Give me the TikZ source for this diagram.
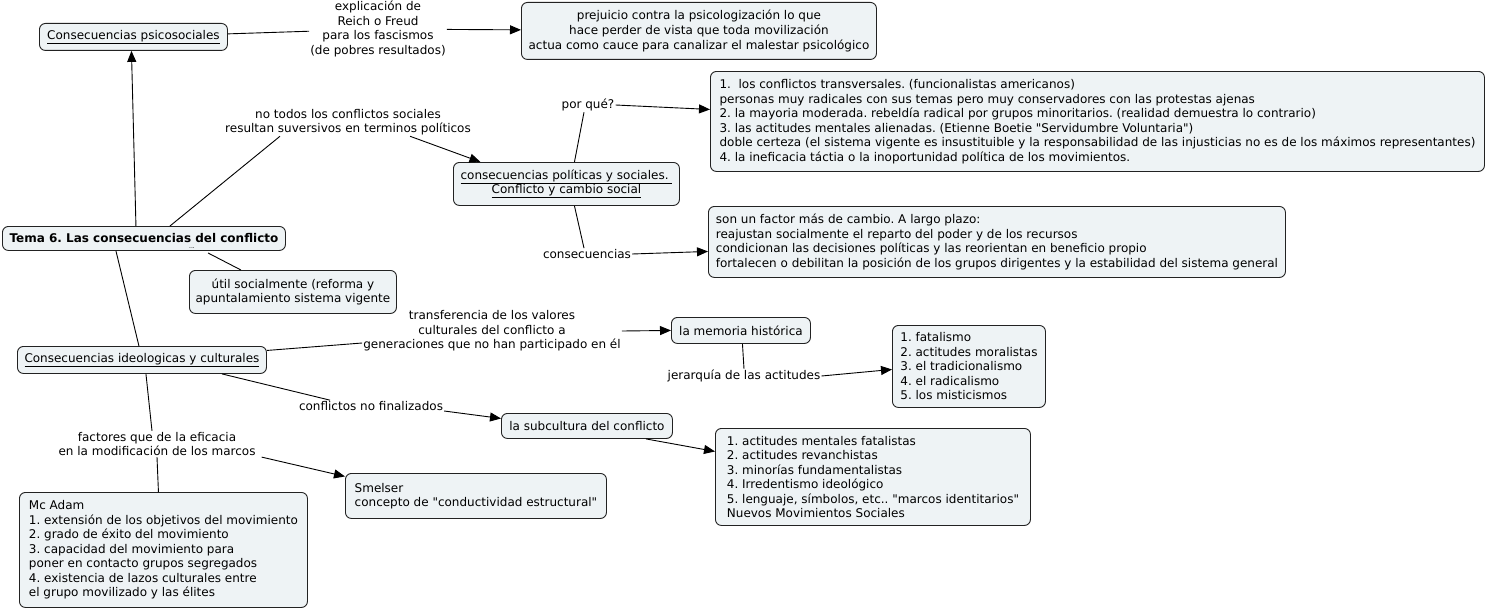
\documentclass[tikz,border=0pt]{standalone}
\usepackage{fontspec}
\setmainfont{DejaVu Sans}
\usetikzlibrary{arrows.meta}
\definecolor{boxfill}{HTML}{EEF3F5}
\definecolor{boxline}{HTML}{222222}
\newcommand\qd{\XeTeXglyph\XeTeXglyphindex "quotedbl"\relax}
\begin{document}
\frenchspacing
\begin{tikzpicture}[x=1pt,y=-1pt,
  every node/.style={font=\fontsize{12}{14.5}\selectfont},
  cbox/.style={draw=boxline,fill=boxfill,rounded corners=6pt,line width=0.9pt,anchor=north west,inner sep=2pt},
  lbox/.style={cbox,align=left},
  ccbox/.style={cbox,align=center},
  lab/.style={align=center,inner sep=1pt},
  conn/.style={line width=0.9pt,draw=black},
  arr/.style={conn,-{Triangle[length=11pt,width=9pt]}}]
\useasboundingbox (0,0) rectangle (1487,610);

% boxes
\node[ccbox,minimum width=188pt,minimum height=27pt] (psico) at (39,23) {\underline{Consecuencias psicosociales}};
\node[ccbox,minimum width=355pt,minimum height=57pt] (prej) at (521,2) {prejuicio contra la psicologización lo que\\hace perder de vista que toda movilización\\actua como cauce para canalizar el malestar psicológico};
\node[ccbox,minimum width=283pt,minimum height=24pt] (tema) at (2,226) {\textbf{Tema 6. Las consecuencias del conflicto}};
\node[ccbox,minimum width=226pt,minimum height=43pt] (polit) at (453,162) {\underline{consecuencias políticas y sociales.\ }\\\underline{Conflicto y cambio social}};
\node[lbox,minimum width=774pt,minimum height=100pt] (box1) at (710,71) {1.\ \ los conflictos transversales. (funcionalistas americanos)\\personas muy radicales con sus temas pero muy conservadores con las protestas ajenas\\2. la mayoria moderada. rebeldía radical por grupos minoritarios. (realidad demuestra lo contrario)\\3. las actitudes mentales alienadas. (Etienne Boetie \qd Servidumbre Voluntaria\qd)\\doble certeza (el sistema vigente es insustituible y la responsabilidad de las injusticias no es de los máximos representantes)\\4. la ineficacia táctia o la inoportunidad política de los movimientos.};
\node[lbox,minimum width=577pt,minimum height=71pt] (box2) at (708,206) {son un factor más de cambio. A largo plazo:\\reajustan socialmente el reparto del poder y de los recursos\\condicionan las decisiones políticas y las reorientan en beneficio propio\\fortalecen o debilitan la posición de los grupos dirigentes y la estabilidad del sistema general};
\node[ccbox,minimum width=207pt,minimum height=43pt] (util) at (189,270) {útil socialmente (reforma y\\apuntalamiento sistema vigente};
\node[ccbox,minimum width=249pt,minimum height=27pt] (ideol) at (17,346) {\underline{Consecuencias ideologicas y culturales}};
\node[ccbox,minimum width=139pt,minimum height=26pt] (memoria) at (671,317) {la memoria histórica};
\node[lbox,minimum width=153pt,minimum height=82pt] (fatal) at (892,325) {1. fatalismo\\2. actitudes moralistas\\3. el tradicionalismo\\4. el radicalismo\\5. los misticismos};
\node[ccbox,minimum width=171pt,minimum height=25pt] (subcult) at (501,413) {la subcultura del conflicto};
\node[lbox,minimum width=315pt,minimum height=97pt] (actit) at (715,428) {1. actitudes mentales fatalistas\\2. actitudes revanchistas\\3. minorías fundamentalistas\\4. Irredentismo ideológico\\5. lenguaje, símbolos, etc.. \qd marcos identitarios\qd\\Nuevos Movimientos Sociales};
\node[lbox,minimum width=261pt,minimum height=45pt] (smelser) at (345,473) {Smelser\\concepto de \qd conductividad estructural\qd};
\node[lbox,minimum width=288pt,minimum height=115pt] (mcadam) at (19,492) {Mc Adam\\1. extensión de los objetivos del movimiento\\2. grado de éxito del movimiento\\3. capacidad del movimiento para\\poner en contacto grupos segregados\\4. existencia de lazos culturales entre\\el grupo movilizado y las élites};

% linking labels
\node[lab] (lab1) at (378,29) {explicación de\\Reich o Freud\\para los fascismos\\(de pobres resultados)};
\node[lab] (lab2) at (348,122) {no todos los conflictos sociales\\resultan suversivos en terminos políticos};
\node[lab] (lab3) at (588,105) {por qué?};
\node[lab] (lab4) at (587,254) {consecuencias};
\node[lab] (lab5) at (492,331) {transferencia de los valores\\culturales del conflicto a\\generaciones que no han participado en él};
\node[lab] (lab6) at (744,376) {jerarquía de las actitudes};
\node[lab] (lab7) at (371,406) {conflictos no finalizados};
\node[lab] (lab8) at (157,444) {factores que de la eficacia\\en la modificación de los marcos};
\node[lab,font=\fontsize{6}{6}\selectfont] (dots) at (192,248) {...};

% connectors
\draw[conn] (psico) -- (lab1);
\draw[arr] (lab1) -- (prej);
\draw[arr] ([xshift=-8pt]tema.north) -- ([xshift=-2pt]psico.south);
\draw[conn] ([xshift=26pt]tema.north) -- ([xshift=-68pt]lab2.south);
\draw[arr] ([xshift=62pt]lab2.south) -- ([xshift=-86pt]polit.north);
\draw[conn] ([xshift=8pt]polit.north) -- ([xshift=-4pt]lab3.south);
\draw[arr] (lab3.east) -- ([yshift=12pt]box1.west);
\draw[conn] ([xshift=8pt]polit.south) -- ([xshift=-3pt]lab4.north);
\draw[arr] (lab4.east) -- ([yshift=-9.5pt]box2.west);
\draw[conn] ([xshift=12pt,yshift=-5pt]dots.east) -- ([xshift=-52pt]util.north);
\draw[conn] ([xshift=-28pt]tema.south) -- ([xshift=-3pt]ideol.north);
\draw[conn] ([yshift=9.5pt]ideol.east) -- ([yshift=-12pt]lab5.west);
\draw[arr] (lab5.east) -- (memoria.west);
\draw[conn] ([xshift=1.5pt]memoria.south) -- (lab6.north);
\draw[arr] (lab6.east) -- ([yshift=-3pt]fatal.west);
\draw[conn] ([xshift=80pt]ideol.south) -- ([xshift=-41pt]lab7.north);
\draw[arr] ([yshift=-5pt]lab7.east) -- ([yshift=7.5pt]subcult.west);
\draw[arr] ([xshift=59pt]subcult.south) -- ([yshift=25.5pt]actit.west);
\draw[conn] ([xshift=4pt]ideol.south) -- ([xshift=-5pt]lab8.north);
\draw[conn] (lab8.south) -- ([xshift=-5pt]mcadam.north);
\draw[arr] ([xshift=5pt]lab8.south east) -- ([yshift=19.5pt]smelser.west);
\end{tikzpicture}
\end{document}
